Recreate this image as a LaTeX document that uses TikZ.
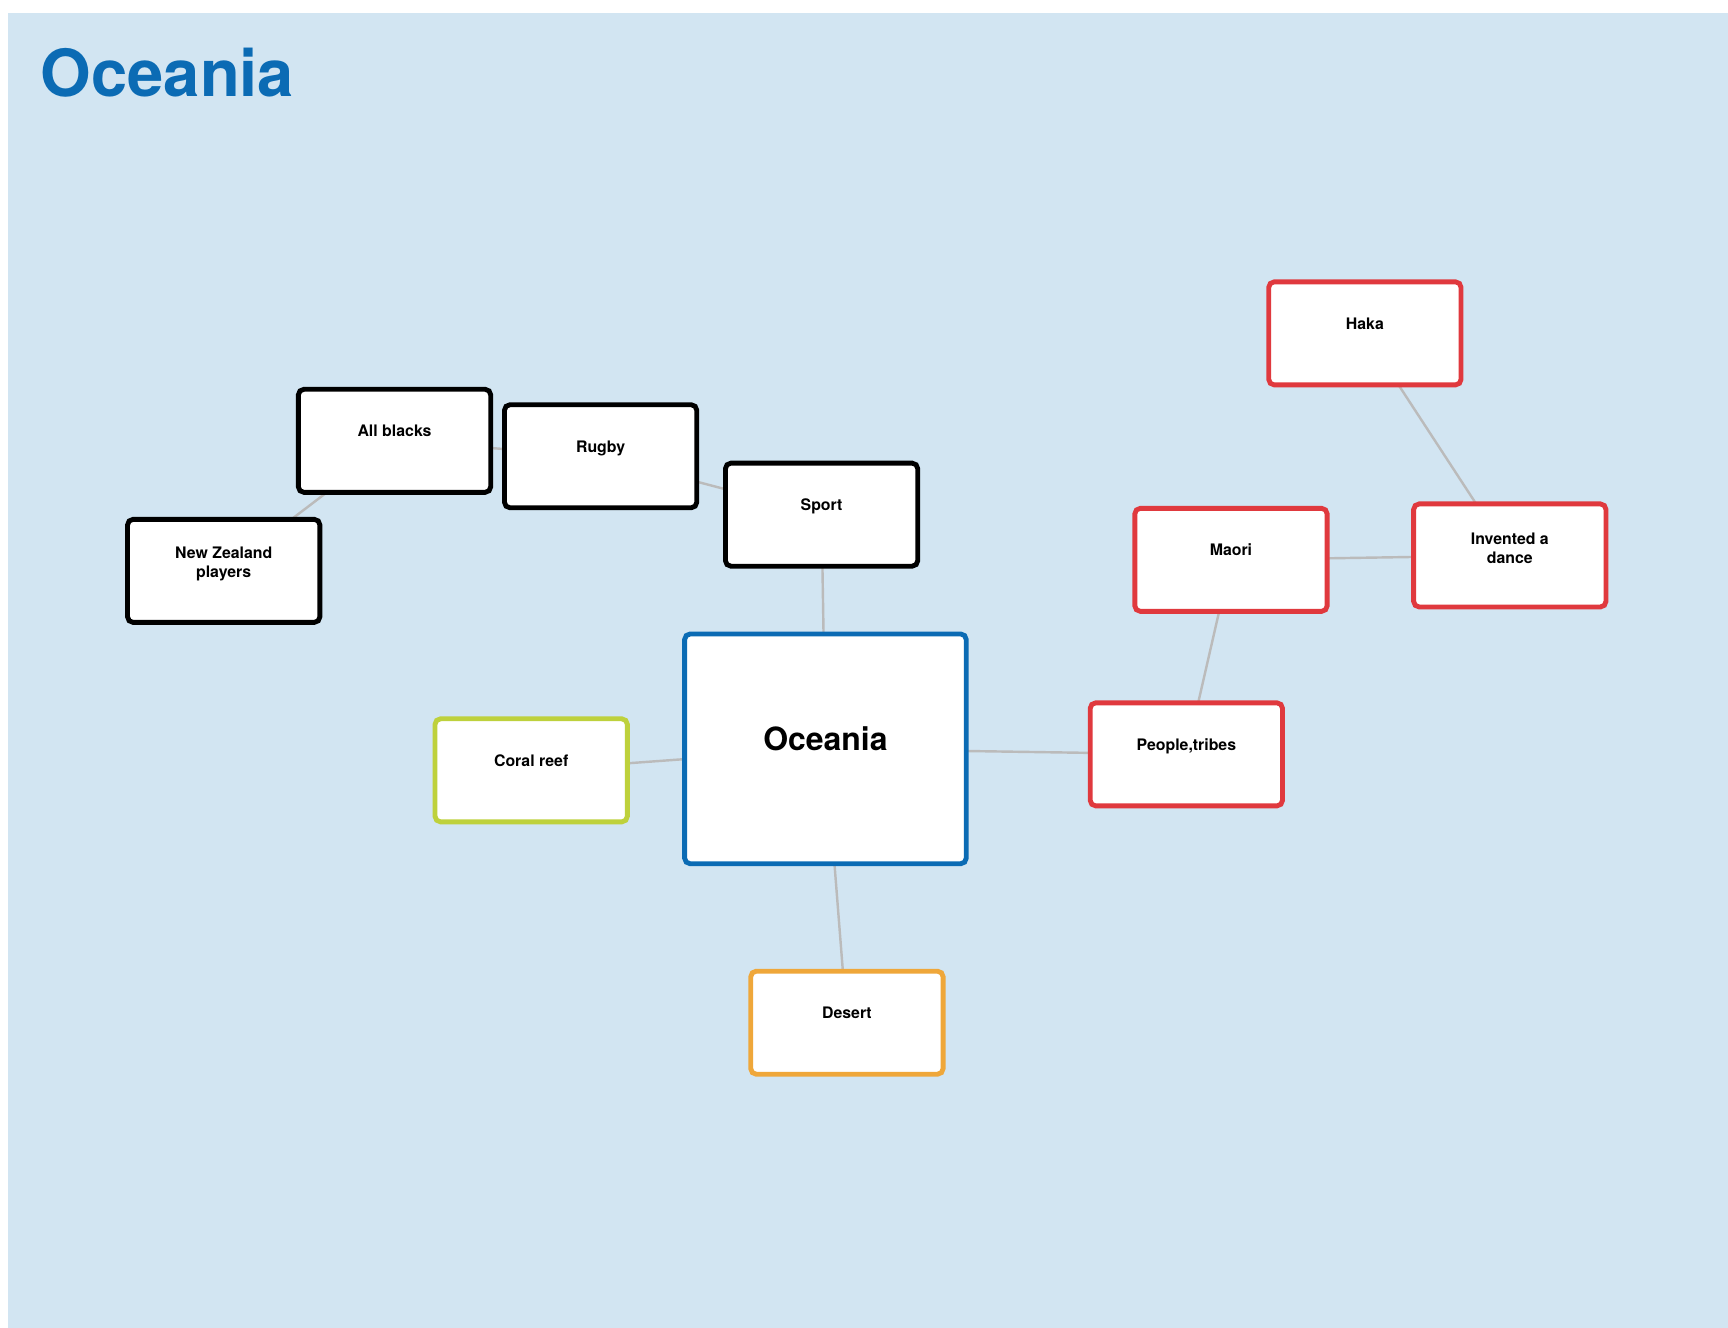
\documentclass[tikz,border=0pt]{standalone}
\usepackage{fontspec}
\setmainfont{TeX Gyre Heros}
\usetikzlibrary{backgrounds}
\definecolor{bgblue}{HTML}{D2E5F2}
\definecolor{titleblue}{HTML}{0B6BB4}
\definecolor{nodered}{HTML}{E0393E}
\definecolor{nodegreen}{HTML}{BED13C}
\definecolor{nodeorange}{HTML}{EFA73A}
\definecolor{edgegray}{HTML}{BBBBBB}
\begin{document}
\begin{tikzpicture}[x=1pt,y=-1pt,
  box/.style={draw, line width=4.4pt, rounded corners=5pt, fill=white,
    minimum width=174.5pt, minimum height=93.5pt, inner sep=0pt},
  blackbox/.style={box, draw=black},
  redbox/.style={box, draw=nodered},
  lbl/.style={inner sep=0pt, align=center, font=\fontsize{14.4}{17}\selectfont\bfseries},
  one/.style={text height=10.4pt, text depth=0pt},
  link/.style={draw=edgegray, line width=2.2pt}]
\useasboundingbox (0,0) rectangle (1568,1205);

% nodes
\node[blackbox] (allblacks) at (358,400) {};
\node[blackbox] (rugby) at (545,414) {};
\node[blackbox] (sport) at (745.5,467) {};
\node[blackbox] (nz) at (203,518) {};
\node[box, draw=titleblue, minimum width=255.5pt, minimum height=208.5pt] (ocean) at (749,679.5) {};
\node[box, draw=nodegreen] (coral) at (482,699) {};
\node[box, draw=nodeorange] (desert) at (768.5,928) {};
\node[redbox] (people) at (1076.5,684.5) {};
\node[redbox] (maori) at (1117,508) {};
\node[redbox] (invented) at (1370,504) {};
\node[redbox] (haka) at (1238.5,302.5) {};

% labels
\node[lbl, one] (allblacksT) at ([yshift=9pt]allblacks.center) {All blacks};
\node[lbl, one] (rugbyT) at ([yshift=9pt]rugby.center) {Rugby};
\node[lbl, one] (sportT) at ([yshift=9pt]sport.center) {Sport};
\node[lbl] (nzT) at ([yshift=6.5pt]nz.center) {New Zealand\\players};
\node[lbl, font=\fontsize{29}{34}\selectfont\bfseries, text height=20.9pt, text depth=0pt] (oceanT) at ([yshift=9pt]ocean.center) {Oceania};
\node[lbl, one] (coralT) at ([yshift=9pt]coral.center) {Coral reef};
\node[lbl, one] (desertT) at ([yshift=9pt]desert.center) {Desert};
\node[lbl, one] (peopleT) at ([yshift=9pt]people.center) {People,tribes};
\node[lbl, one] (maoriT) at ([yshift=9pt]maori.center) {Maori};
\node[lbl] (inventedT) at ([yshift=6.5pt]invented.center) {Invented a\\dance};
\node[lbl, one] (hakaT) at ([yshift=9pt]haka.center) {Haka};

% title
\node[anchor=base west, inner sep=0pt, text=titleblue,
  font=\fontsize{59}{59}\selectfont\bfseries] (title) at (37,88) {Oceania};

\begin{scope}[on background layer]
  \fill[bgblue] (7,12) rectangle (1568,1205);
  \draw[link] (allblacks.center) -- (nz.center);
  \draw[link] (allblacks.center) -- (rugby.center);
  \draw[link] (rugby.center) -- (sport.center);
  \draw[link] (sport.center) -- (ocean.center);
  \draw[link] (ocean.center) -- (coral.center);
  \draw[link] (ocean.center) -- (desert.center);
  \draw[link] (ocean.center) -- (people.center);
  \draw[link] (people.center) -- (maori.center);
  \draw[link] (maori.center) -- (invented.center);
  \draw[link] (invented.center) -- (haka.center);
\end{scope}
\end{tikzpicture}
\end{document}
